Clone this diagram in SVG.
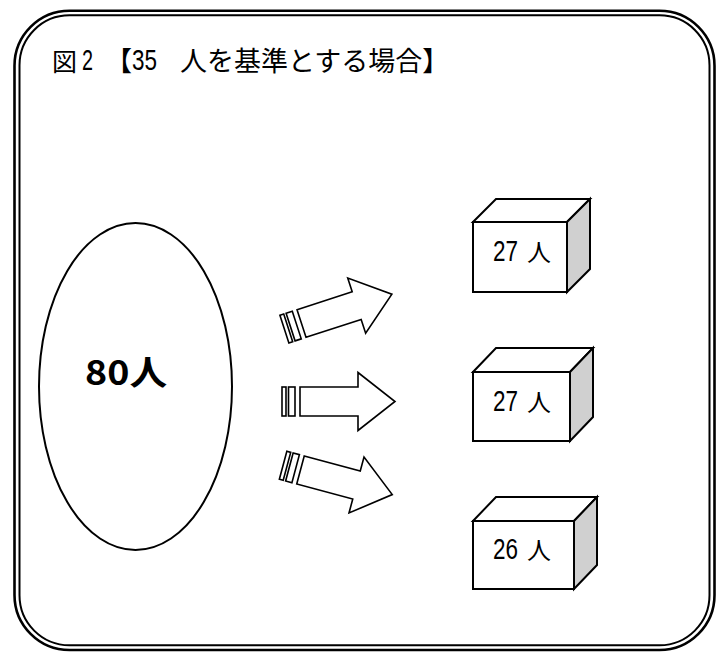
<svg xmlns="http://www.w3.org/2000/svg" width="725" height="655" viewBox="0 0 725 655">
<style>
.ln{fill:none;stroke:#000}
.shape{fill:#fff;stroke:#000;stroke-width:2;stroke-linejoin:miter}
.side{fill:#d0d0d0;stroke:#000;stroke-width:2}
.arr{fill:#fff;stroke:#000;stroke-width:1.6;stroke-linejoin:miter}
.jp{font-family:"Noto Sans CJK JP","Noto Sans",sans-serif;fill:#000}
.num{font-family:"Liberation Sans",Arial,sans-serif;fill:#000}
</style>
<defs>
<g id="arrow">
<rect x="0" y="-14.5" width="4" height="29" class="arr"/>
<rect x="6.5" y="-14.5" width="6.5" height="29" class="arr"/>
<polygon points="18,-14.5 76,-14.5 76,-29 113,0 76,29 76,14.5 18,14.5" class="arr"/>
</g>
</defs>
<rect id="frame-outer" x="14.5" y="10.7" width="700" height="639.3" rx="55" ry="55" class="ln" stroke-width="2.6"/>
<rect id="frame-inner" x="19.5" y="15.3" width="690" height="630" rx="50" ry="50" class="ln" stroke-width="2"/>
<g id="title">
<text class="jp" x="52" y="71" font-size="25">図</text>
<text class="num" x="82" y="70" font-size="29" textLength="11" lengthAdjust="spacingAndGlyphs">2</text>
<text class="jp" x="105" y="71" font-size="27">【</text>
<text class="num" x="132" y="70" font-size="30" textLength="25" lengthAdjust="spacingAndGlyphs">35</text>
<text class="jp" x="180" y="71" font-size="27">人を基準とする場合】</text>
</g>
<g id="source">
<ellipse cx="135.5" cy="386.5" rx="96.5" ry="163.5" class="shape"/>
<text class="jp" x="85" y="385" font-size="34" font-weight="bold" textLength="82" lengthAdjust="spacingAndGlyphs">80人</text>
</g>
<g id="connectors">
<use href="#arrow" transform="translate(284.4,329.1) rotate(-18)"/>
<use href="#arrow" transform="translate(282,401.5)"/>
<use href="#arrow" transform="translate(283.1,465.3) rotate(15)"/>
</g>
<g id="box1">
<polygon points="473,222 496,199 590,199 567,222" class="shape"/>
<polygon points="567,222 590,199 590,269 567,292" class="side"/>
<rect x="473" y="222" width="94" height="70" class="shape"/>
<text class="num" x="493" y="261" font-size="29" textLength="25" lengthAdjust="spacingAndGlyphs">27</text>
<text class="jp" x="527" y="261" font-size="24">人</text>
</g>
<g id="box2">
<polygon points="473,372 496,348 593,348 570,372" class="shape"/>
<polygon points="570,372 593,348 593,417 570,441" class="side"/>
<rect x="473" y="372" width="97" height="69" class="shape"/>
<text class="num" x="493" y="411" font-size="29" textLength="25" lengthAdjust="spacingAndGlyphs">27</text>
<text class="jp" x="527" y="411" font-size="24">人</text>
</g>
<g id="box3">
<polygon points="473,521 496,497 597,497 574,521" class="shape"/>
<polygon points="574,521 597,497 597,565 574,589" class="side"/>
<rect x="473" y="521" width="101" height="68" class="shape"/>
<text class="num" x="493" y="559" font-size="29" textLength="25" lengthAdjust="spacingAndGlyphs">26</text>
<text class="jp" x="527" y="559" font-size="24">人</text>
</g>
</svg>
